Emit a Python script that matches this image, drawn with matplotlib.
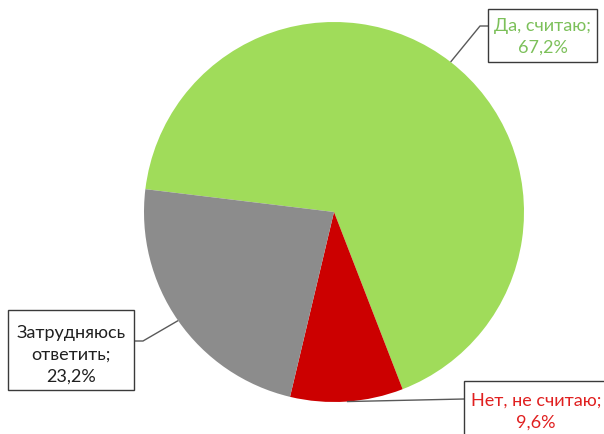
import numpy as np
import matplotlib.pyplot as plt
from matplotlib.patches import Rectangle

labels = ["Да, считаю;", "Нет, не считаю;", "Затрудняюсь\nответить;"]
shares = [67.2, 9.6, 23.2]
wedge_colors = ["#a0dc5a", "#cc0000", "#8c8c8c"]
text_colors = ["#7cc05a", "#e02020", "#202020"]

W, H = 604, 435
fig = plt.figure(figsize=(W / 100, H / 100), dpi=100)
ax = fig.add_axes([0, 0, 1, 1])

cx, cy, r = 334, H - 213, 190
start = 173.1
wedges, _ = ax.pie(shares, colors=wedge_colors, startangle=start, counterclock=False,
                   radius=r, center=(cx, cy), frame=True,
                   wedgeprops=dict(linewidth=0))
ax.set_xlim(0, W)
ax.set_ylim(0, H)
ax.set_aspect("equal")
ax.axis("off")

# label boxes (x0, y_top, x1, y_bottom in pixel rows) and leader elbows
boxes = [(488, 10, 597, 63), (464, 382, 607, 440), (8, 311, 134, 391)]
elbows = [[(480, 27), (488, 27)], [(464, 400)], [(143, 342), (134, 342)]]
text_y = [36.5, 412, 355]

plt.rcParams['font.family'] = ['Lato', 'DejaVu Sans']

for w, lab, val, tc, box, elb, ty in zip(wedges, labels, shares, text_colors,
                                         boxes, elbows, text_y):
    mid = np.deg2rad((w.theta1 + w.theta2) / 2)
    px, py = cx + r * np.cos(mid), cy + r * np.sin(mid)
    xs = [px] + [e[0] for e in elb]
    ys = [py] + [H - e[1] for e in elb]
    ax.plot(xs, ys, color="#595959", lw=1, solid_capstyle="butt", zorder=3)
    x0, t, x1, b = box
    ax.add_patch(Rectangle((x0, H - b), x1 - x0, b - t, facecolor="white",
                           edgecolor="#3a3a3a", lw=1, zorder=4))
    txt = f"{lab}\n{val:.1f}%".replace(".", ",")
    ax.text((x0 + min(x1, W)) / 2 + (2 if x1 > W else 0), H - ty, txt,
            ha="center", va="center", color=tc, fontsize=13,
            linespacing=1.45, zorder=5)

fig.savefig("out.png", dpi=100)
